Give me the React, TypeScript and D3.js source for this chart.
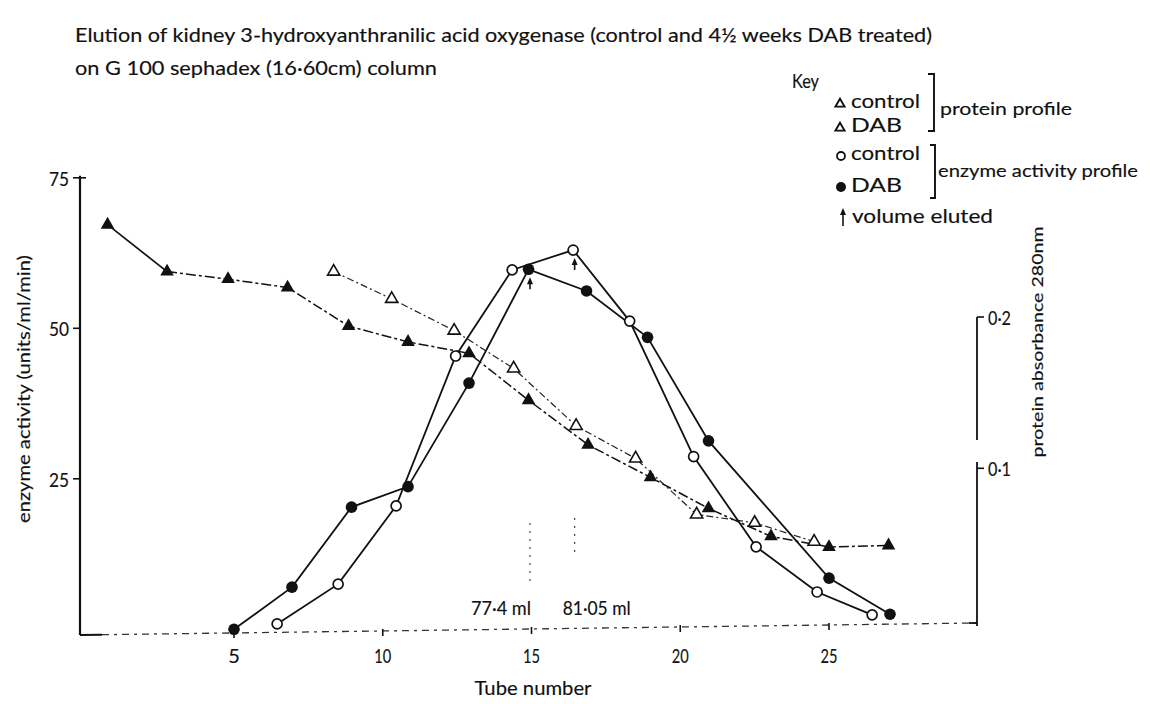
import React from 'react';
import * as d3 from 'd3';

// ---------- data ----------
const titleLines = [
  'Elution of kidney 3-hydroxyanthranilic acid oxygenase (control and 4½ weeks DAB treated)',
  'on G 100 sephadex (16·60cm) column',
];

// protein profile, DAB (filled triangles) – absorbance 280nm
const dabProteinTube = [0.75, 2.75, 4.8, 6.8, 8.85, 10.85, 12.9, 14.9, 16.9, 19.0, 20.95, 23.05, 25.0, 27.0];
const dabProteinAbs = [0.261, 0.23, 0.225, 0.2195, 0.194, 0.1835, 0.176, 0.145, 0.1155, 0.094, 0.0735, 0.055, 0.048, 0.049];

// protein profile, control (open triangles)
const controlProteinTube = [8.35, 10.3, 12.4, 14.4, 16.5, 18.5, 20.55, 22.5, 24.5];
const controlProteinAbs = [0.23, 0.212, 0.191, 0.166, 0.128, 0.1065, 0.0695, 0.064, 0.0515];

// enzyme activity profile, DAB (filled circles) – units/ml/min
const dabEnzymeTube = [5, 6.95, 8.95, 10.85, 12.9, 14.9, 16.85, 18.9, 20.95, 25.0, 27.05];
const dabEnzymeActivity = [0, 7.0, 20.3, 23.7, 40.9, 59.8, 56.2, 48.5, 31.3, 8.5, 2.5];

// enzyme activity profile, control (open circles)
const controlEnzymeTube = [6.45, 8.5, 10.45, 12.45, 14.35, 16.4, 18.3, 20.45, 22.55, 24.6, 26.45];
const controlEnzymeActivity = [0.9, 7.5, 20.5, 45.4, 59.7, 63.0, 51.2, 28.7, 13.7, 6.2, 2.4];

const xTicks = [5, 10, 15, 20, 25];
const yTicks = [25, 50, 75];
const rightTicks = [0.1, 0.2];
const rightTickLabels = ['0·1', '0·2'];

// volume eluted markers
const elutedTube = [14.95, 16.45];
const elutedPeak = [59.8, 63.0];
const elutedLabels = ['77·4 ml', '81·05 ml'];

const keyProtein = ['control', 'DAB'];
const keyEnzyme = ['control', 'DAB'];

// ---------- layout ----------
const W = 1150;
const H = 704;
const FONT = 'Lato, "DejaVu Sans", sans-serif';
const INK = '#111';
const TXT = { fill: INK, stroke: INK, strokeWidth: 0.15 } as const;

const x = d3.scaleLinear().domain([0, 30]).range([85.25, 85.25 + 30 * 29.75]);
const y = d3.scaleLinear().domain([0, 75]).range([629.3, 177.8]);
const yR = d3.scaleLinear().domain([0, 0.2]).range([619.6, 317]);

const leftAxisX = 80;
const rightAxisX = 977;
const baseLeftY = 635;
const baseRightY = 623;
const baseAt = (px: number) => baseLeftY + ((px - leftAxisX) * (baseRightY - baseLeftY)) / (rightAxisX - leftAxisX);

const triFilled = d3.symbol(d3.symbolTriangle, 80)() as string;
const triOpen = d3.symbol(d3.symbolTriangle, 64)() as string;

function pts(tubes: number[], vals: number[], ys: d3.ScaleLinear<number, number>) {
  return tubes.map((t, i) => [x(t), ys(vals[i])] as [number, number]);
}

const lineGen = d3.line<[number, number]>().x((d) => d[0]).y((d) => d[1]);

function Arrow({ cx, top, len }: { cx: number; top: number; len: number }) {
  return (
    <g>
      <line x1={cx} x2={cx} y1={top + 4} y2={top + len} stroke={INK} strokeWidth={1.6} />
      <path d={`M${cx},${top} L${cx - 3},${top + 7} L${cx + 3},${top + 7} Z`} fill={INK} />
    </g>
  );
}

export default function App() {
  const dabP = pts(dabProteinTube, dabProteinAbs, yR);
  const ctlP = pts(controlProteinTube, controlProteinAbs, yR);
  const dabE = pts(dabEnzymeTube, dabEnzymeActivity, y);
  const ctlE = pts(controlEnzymeTube, controlEnzymeActivity, y);

  return (
    <svg
      width={W}
      height={H}
      viewBox={`0 0 ${W} ${H}`}
      style={{ position: 'absolute', left: 0, top: 0, background: '#fff', display: 'block' }}
      fontFamily={FONT}
    >
      <rect x={0} y={0} width={W} height={H} fill="#fff" />

      {/* title */}
      <text x={75} y={42} fontSize={19} {...TXT} textLength={857} lengthAdjust="spacingAndGlyphs">
        {titleLines[0]}
      </text>
      <text x={75} y={75} fontSize={19} {...TXT} textLength={362} lengthAdjust="spacingAndGlyphs">
        {titleLines[1]}
      </text>

      {/* left axis */}
      <line x1={leftAxisX} x2={leftAxisX} y1={y(75) - 2} y2={baseLeftY} stroke={INK} strokeWidth={2.2} />
      {yTicks.map((v) => (
        <g key={v}>
          <line
            x1={leftAxisX - 7}
            x2={v === 75 ? leftAxisX + 6 : leftAxisX}
            y1={y(v)}
            y2={y(v)}
            stroke={INK}
            strokeWidth={1.6}
          />
          <text
            x={leftAxisX - 11}
            y={y(v) + 8}
            fontSize={20}
            {...TXT}
            textAnchor="end"
            textLength={20}
            lengthAdjust="spacingAndGlyphs"
          >
            {v}
          </text>
        </g>
      ))}
      <text
        transform={`translate(30,389) rotate(-90)`}
        fontSize={17}
        {...TXT}
        textAnchor="middle"
        textLength={268}
        lengthAdjust="spacingAndGlyphs"
      >
        enzyme activity (units/ml/min)
      </text>

      {/* x axis (dashed baseline) */}
      <line x1={leftAxisX} x2={leftAxisX + 22} y1={baseLeftY} y2={baseAt(leftAxisX + 22)} stroke={INK} strokeWidth={2} />
      <line
        x1={leftAxisX + 22}
        x2={rightAxisX}
        y1={baseAt(leftAxisX + 22)}
        y2={baseRightY}
        stroke="#333"
        strokeWidth={1.3}
        strokeDasharray="7,5,3,5"
      />
      {xTicks.map((t) => (
        <g key={t}>
          <line x1={x(t)} x2={x(t)} y1={baseAt(x(t)) - 2} y2={baseAt(x(t)) + 5} stroke={INK} strokeWidth={1.6} />
          {t < 10 ? (
            <text x={x(t)} y={663} fontSize={20} {...TXT} textAnchor="middle">
              {t}
            </text>
          ) : (
            <text x={x(t)} y={663} fontSize={20} {...TXT} textAnchor="middle" textLength={17} lengthAdjust="spacingAndGlyphs">
              {t}
            </text>
          )}
        </g>
      ))}
      <text x={533} y={695} fontSize={19} {...TXT} textAnchor="middle" textLength={117} lengthAdjust="spacingAndGlyphs">
        Tube number
      </text>

      {/* right axis */}
      <line x1={rightAxisX} x2={rightAxisX} y1={yR(0.2)} y2={440} stroke={INK} strokeWidth={1.8} />
      <line x1={rightAxisX} x2={rightAxisX} y1={462} y2={baseRightY + 3} stroke={INK} strokeWidth={1.8} />
      <line x1={rightAxisX - 8} x2={rightAxisX} y1={baseRightY} y2={baseRightY} stroke={INK} strokeWidth={1.8} />
      {rightTicks.map((a, i) => (
        <g key={a}>
          <line x1={rightAxisX} x2={rightAxisX + 7} y1={yR(a)} y2={yR(a)} stroke={INK} strokeWidth={1.6} />
          <text x={rightAxisX + 11} y={yR(a) + 8} fontSize={20} {...TXT} textLength={23} lengthAdjust="spacingAndGlyphs">
            {rightTickLabels[i]}
          </text>
        </g>
      ))}
      <text
        transform={`translate(1043,342) rotate(-90)`}
        fontSize={16}
        {...TXT}
        textAnchor="middle"
        textLength={231}
        lengthAdjust="spacingAndGlyphs"
      >
        protein absorbance 280nm
      </text>

      {/* volume eluted dotted guides and labels */}
      {elutedTube.map((t, i) => (
        <line
          key={'g' + i}
          x1={x(t)}
          x2={x(t)}
          y1={i === 0 ? 523 : 518}
          y2={i === 0 ? 583 : 553}
          stroke="#444"
          strokeWidth={1.2}
          strokeDasharray="2,6"
        />
      ))}
      <text x={x(elutedTube[0]) + 1} y={615} fontSize={19} {...TXT} textAnchor="end" textLength={60} lengthAdjust="spacingAndGlyphs">
        {elutedLabels[0]}
      </text>
      <text x={x(elutedTube[1]) - 12} y={615} fontSize={19} {...TXT} textLength={68} lengthAdjust="spacingAndGlyphs">
        {elutedLabels[1]}
      </text>

      {/* protein lines */}
      <path d={lineGen(dabP.slice(0, 2)) as string} fill="none" stroke={INK} strokeWidth={1.7} />
      <path d={lineGen(dabP.slice(1)) as string} fill="none" stroke={INK} strokeWidth={1.5} strokeDasharray="10,3,3,3" />
      <path d={lineGen(ctlP) as string} fill="none" stroke="#222" strokeWidth={1.2} strokeDasharray="7,3,2,3" />

      {/* enzyme lines */}
      <path d={lineGen(ctlE) as string} fill="none" stroke={INK} strokeWidth={1.8} />
      <path d={lineGen(dabE) as string} fill="none" stroke={INK} strokeWidth={1.8} />

      {/* markers */}
      {dabP.map(([px, py], i) => (
        <path key={'dp' + i} d={triFilled} transform={`translate(${px},${py})`} fill={INK} />
      ))}
      {ctlP.map(([px, py], i) => (
        <path key={'cp' + i} d={triOpen} transform={`translate(${px},${py})`} fill="#fff" stroke={INK} strokeWidth={1.6} />
      ))}
      {ctlE.map(([px, py], i) => (
        <circle key={'ce' + i} cx={px} cy={py} r={5} fill="#fff" stroke={INK} strokeWidth={1.7} />
      ))}
      {dabE.map(([px, py], i) => (
        <circle key={'de' + i} cx={px} cy={py} r={5.8} fill={INK} />
      ))}

      {/* volume eluted arrows below peaks */}
      {elutedTube.map((t, i) => (
        <Arrow key={'a' + i} cx={x(t)} top={y(elutedPeak[i]) + 8} len={12} />
      ))}

      {/* key */}
      <text x={792} y={88} fontSize={19} {...TXT} textLength={27} lengthAdjust="spacingAndGlyphs">
        Key
      </text>
      {keyProtein.map((lab, i) => (
        <g key={'kp' + i}>
          <path
            d={d3.symbol(d3.symbolTriangle, 36)() as string}
            transform={`translate(840,${104 + i * 24})`}
            fill="#fff"
            stroke={INK}
            strokeWidth={1.9}
          />
          <text x={851} y={108 + i * 24} fontSize={19} {...TXT} textLength={i === 0 ? 69 : 51} lengthAdjust="spacingAndGlyphs">
            {lab}
          </text>
        </g>
      ))}
      <path d="M928,74 L934,74 L934,131 L928,131" fill="none" stroke={INK} strokeWidth={1.9} />
      <text x={940} y={115} fontSize={18} {...TXT} textLength={132} lengthAdjust="spacingAndGlyphs">
        protein profile
      </text>
      {keyEnzyme.map((lab, i) => (
        <g key={'ke' + i}>
          {i === 0 ? (
            <circle cx={841} cy={156} r={4} fill="#fff" stroke={INK} strokeWidth={1.8} />
          ) : (
            <circle cx={841} cy={187} r={5} fill={INK} />
          )}
          <text x={851} y={i === 0 ? 160 : 192} fontSize={19} {...TXT} textLength={i === 0 ? 69 : 51} lengthAdjust="spacingAndGlyphs">
            {lab}
          </text>
        </g>
      ))}
      <path d="M930,145 L935,145 L935,198 L930,198" fill="none" stroke={INK} strokeWidth={1.9} />
      <text x={938} y={177} fontSize={18} {...TXT} textLength={200} lengthAdjust="spacingAndGlyphs">
        enzyme activity profile
      </text>
      <Arrow cx={843} top={208} len={18} />
      <text x={852} y={223} fontSize={19} {...TXT} textLength={141} lengthAdjust="spacingAndGlyphs">
        volume eluted
      </text>
    </svg>
  );
}
